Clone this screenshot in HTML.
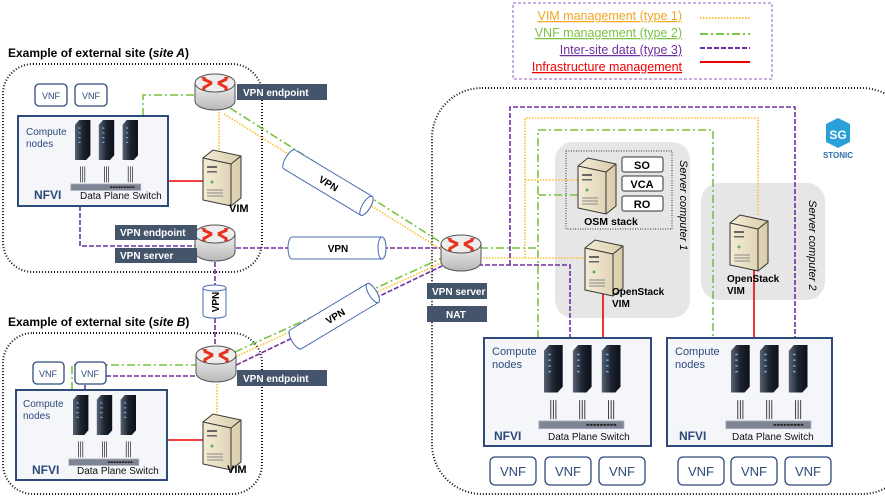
<!DOCTYPE html>
<html><head><meta charset="utf-8"><style>
html,body{margin:0;padding:0;background:#fff;}
svg{display:block;font-family:"Liberation Sans",sans-serif;}
</style></head><body>
<svg width="885" height="497" viewBox="0 0 885 497" xmlns="http://www.w3.org/2000/svg">
<defs>
<linearGradient id="srv" x1="0" x2="1"><stop offset="0" stop-color="#f4ecd6"/><stop offset="1" stop-color="#d9ccaa"/></linearGradient>
<linearGradient id="rk" x1="0" x2="1"><stop offset="0" stop-color="#5a6474"/><stop offset="0.5" stop-color="#1d2430"/><stop offset="1" stop-color="#0c1018"/></linearGradient>
<linearGradient id="cyl" x1="0" x2="0" y1="0" y2="1"><stop offset="0" stop-color="#f0f0f0"/><stop offset="1" stop-color="#b8b8b8"/></linearGradient>
<g id="server">
<path d="M0,8 L10,0 L38,6 L38,48 L28,56 L0,50 Z" fill="url(#srv)" stroke="#333" stroke-width="1"/>
<path d="M28,14 L38,6 M28,14 L28,56 M0,8 L28,14" fill="none" stroke="#333" stroke-width="1"/>
<rect x="4" y="16" width="10" height="2" fill="#666"/><rect x="4" y="21" width="10" height="1.5" fill="#666"/>
<circle cx="9" cy="32" r="1.5" fill="#6a6"/>
<path d="M4,40h16M4,43h16M4,46h16" stroke="#888" stroke-width="1"/>
</g>
<g id="router">
<path d="M0,10 L0,28 A20,9 0 0 0 40,28 L40,10 Z" fill="url(#cyl)" stroke="#555"/>
<ellipse cx="20" cy="10" rx="20" ry="9" fill="#eee" stroke="#555"/>
<path d="M8,6 L17,10 M32,6 L23,10 M8,15 L17,10 M32,15 L23,10" stroke="#e8321e" stroke-width="3"/>
<path d="M6,4l5,0l-2,4zM34,4l-5,0l2,4zM6,17l5,0l-2,-4zM34,17l-5,0l2,-4z" fill="#e8321e"/>
</g>
<g id="rack">
<path d="M0,6 L6,0 L22,0 L22,44 L16,50 L0,50 Z" fill="url(#rk)"/>
<path d="M5,10h3M5,16h3M5,22h3M5,28h3" stroke="#6ab0e0" stroke-width="1.5"/>
<path d="M8,58v20M11,58v20M14,58v20" stroke="#222" stroke-width="1"/>
</g>
<g id="rackset">
<use href="#rack" x="0" y="0"/><use href="#rack" x="34" y="0"/><use href="#rack" x="68" y="0"/>
<rect x="-6" y="80" width="100" height="8" fill="#7d8594" stroke="#aab"/>
<path d="M50,84h36" stroke="#222" stroke-width="2" stroke-dasharray="3,1"/>
</g>
<g id="tube">
<path d="M0,0 L90,0 A4,11 0 0 1 90,22 L0,22 A4,11 0 0 1 0,0Z" fill="#fff" stroke="#4a6bb0"/>
<ellipse cx="90" cy="11" rx="4" ry="11" fill="#fff" stroke="#4a6bb0"/>
</g>
</defs>

<rect x="513" y="3" width="259" height="76" fill="none" stroke="#9060c0" stroke-dasharray="3,2"/>
<g font-size="12.5" text-anchor="end">
<text x="682" y="20" fill="#f5a623" text-decoration="underline">VIM management (type 1)</text>
<text x="682" y="37" fill="#7cc243" text-decoration="underline">VNF management (type 2)</text>
<text x="682" y="54" fill="#7030a0" text-decoration="underline">Inter-site data (type 3)</text>
<text x="682" y="71" fill="#e00" text-decoration="underline">Infrastructure management</text>
</g>
<path d="M700,18h50" stroke="#fbc02d" stroke-width="2" stroke-dasharray="1.5,1.5"/>
<path d="M700,34h50" stroke="#7cc243" stroke-width="2" stroke-dasharray="8,3,2,3"/>
<path d="M700,48h50" stroke="#7030a0" stroke-width="2" stroke-dasharray="5,2"/>
<path d="M700,62h50" stroke="#e00" stroke-width="2"/>

<text x="8" y="57" font-size="12" font-weight="bold">Example of external site (<tspan font-style="italic">site A</tspan>)</text>
<rect x="3" y="64" width="259" height="208" rx="30" fill="none" stroke="#111" stroke-width="2" stroke-dasharray="1,2"/>
<text x="8" y="326" font-size="12" font-weight="bold">Example of external site (<tspan font-style="italic">site B</tspan>)</text>
<rect x="3" y="333" width="259" height="161" rx="30" fill="none" stroke="#111" stroke-width="2" stroke-dasharray="1,2"/>
<rect x="432" y="88" width="480" height="406" rx="50" fill="none" stroke="#111" stroke-width="2" stroke-dasharray="1,2"/>

<rect x="555" y="142" width="135" height="176" rx="18" fill="#e6e6e6"/>
<rect x="701" y="183" width="124" height="117" rx="18" fill="#e6e6e6"/>
<text transform="translate(680,160) rotate(90)" font-size="11" font-style="italic">Server computer 1</text>
<text transform="translate(809,200) rotate(90)" font-size="11" font-style="italic">Server computer 2</text>
<rect x="566" y="151" width="106" height="78" fill="none" stroke="#333" stroke-dasharray="1,1.5"/>
<g font-size="11" font-weight="bold" text-anchor="middle">
<rect x="622" y="157" width="41" height="15" rx="2" fill="#fff" stroke="#333"/><text x="642" y="169">SO</text>
<rect x="622" y="176" width="41" height="15" rx="2" fill="#fff" stroke="#333"/><text x="642" y="188">VCA</text>
<rect x="622" y="196" width="41" height="15" rx="2" fill="#fff" stroke="#333"/><text x="642" y="208">RO</text>
<text x="611" y="225" font-size="10.5">OSM stack</text>
</g>

<path d="M826,124 L838,118 L850,124 L850,142 L838,148 L826,142Z" fill="#2aa0d8"/>
<text x="838" y="139" font-size="12" font-weight="bold" fill="#fff" text-anchor="middle">SG</text>
<text x="838" y="158" font-size="8" font-weight="bold" fill="#2a6fa8" text-anchor="middle">STONIC</text>

<g fill="none" stroke="#7cc243" stroke-width="1.6" stroke-dasharray="8,3,2,3">
<path d="M143,116V95H197"/>
<path d="M230,108L445,245"/>
<path d="M480,248H538"/>
<path d="M538,338V130H713V338"/>
<path d="M538,195H580"/>
<path d="M72,390V365H198"/>
<path d="M235,352L442,258"/>
</g>
<g fill="none" stroke="#fbc02d" stroke-width="1.6" stroke-dasharray="1.5,1.5">
<path d="M219,112V152"/>
<path d="M224,114L442,250"/>
<path d="M480,258H590"/>
<path d="M525,258V118H758V215"/>
<path d="M525,180H580"/>
<path d="M217,384V415"/>
<path d="M233,358L443,262"/>
</g>
<g fill="none" stroke="#7030a0" stroke-width="1.6" stroke-dasharray="5,2">
<path d="M80,206V246H196"/>
<path d="M236,248H440"/>
<path d="M215,262V345"/>
<path d="M478,265H570V338"/>
<path d="M510,265V107H795V338"/>
<path d="M85,390V376H196"/>
<path d="M230,368L442,266"/>
</g>
<g stroke="#e00" stroke-width="1.6">
<path d="M168,181H206"/><path d="M167,440H206"/>
<path d="M603,290V338"/><path d="M754,255V338"/>
</g>

<g font-size="10" font-weight="bold" text-anchor="middle">
<g transform="translate(295,150) rotate(31)"><use href="#tube"/><text x="46" y="15">VPN</text></g>
<g transform="translate(292,237)"><use href="#tube"/><text x="46" y="15">VPN</text></g>
<g transform="translate(290,330) rotate(-31)"><use href="#tube"/><text x="46" y="15">VPN</text></g>
<path d="M203,288V315A11,3 0 0 0 226,315V288" fill="#fff" stroke="#4a6bb0"/>
<ellipse cx="214.5" cy="288" rx="11.5" ry="3" fill="#fff" stroke="#4a6bb0"/>
<text transform="translate(219,302) rotate(-90)" font-size="10">VPN</text>
</g>

<g fill="#fff" stroke="#2e4a7a" stroke-width="1.3">
<rect x="35" y="84" width="32" height="22" rx="4"/><rect x="75" y="84" width="32" height="22" rx="4"/>
<rect x="33" y="362" width="31" height="22" rx="4"/><rect x="75" y="362" width="31" height="22" rx="4"/>
<rect x="490" y="457" width="46" height="28" rx="5"/><rect x="545" y="457" width="46" height="28" rx="5"/><rect x="599" y="457" width="46" height="28" rx="5"/>
<rect x="678" y="457" width="46" height="28" rx="5"/><rect x="731" y="457" width="46" height="28" rx="5"/><rect x="785" y="457" width="46" height="28" rx="5"/>
</g>
<g font-size="9" fill="#2e4a7a" text-anchor="middle">
<text x="51" y="99">VNF</text><text x="91" y="99">VNF</text>
<text x="48" y="377">VNF</text><text x="90" y="377">VNF</text>
</g>
<g font-size="13" fill="#2e4a7a" text-anchor="middle">
<text x="513" y="476">VNF</text><text x="568" y="476">VNF</text><text x="622" y="476">VNF</text>
<text x="701" y="476">VNF</text><text x="754" y="476">VNF</text><text x="808" y="476">VNF</text>
</g>

<g fill="#f4f6fa" stroke="#2e4a7a" stroke-width="2">
<rect x="18" y="116" width="150" height="90"/>
<rect x="16" y="390" width="151" height="90"/>
<rect x="484" y="338" width="167" height="108"/>
<rect x="667" y="338" width="165" height="108"/>
</g>
<g font-size="10" fill="#2e4a7a"><text x="26" y="135">Compute</text><text x="26" y="147">nodes</text>
<text x="23" y="407">Compute</text><text x="23" y="419">nodes</text></g>
<g font-size="11" fill="#2e4a7a"><text x="492" y="355">Compute</text><text x="492" y="368">nodes</text>
<text x="675" y="355">Compute</text><text x="675" y="368">nodes</text></g>
<g font-weight="bold" fill="#2e4a7a"><text x="34" y="199" font-size="12">NFVI</text><text x="32" y="474" font-size="12">NFVI</text>
<text x="494" y="440" font-size="12">NFVI</text><text x="679" y="440" font-size="12">NFVI</text></g>
<g font-size="10" fill="#111"><text x="80" y="199">Data Plane Switch</text><text x="77" y="474">Data Plane Switch</text>
<text x="548" y="440">Data Plane Switch</text><text x="732" y="440">Data Plane Switch</text></g>
<use href="#rackset" transform="translate(75,120) scale(0.7,0.8)"/>
<use href="#rackset" transform="translate(73,395) scale(0.7,0.8)"/>
<use href="#rackset" transform="translate(544,345) scale(0.85,0.95)"/>
<use href="#rackset" transform="translate(731,345) scale(0.85,0.95)"/>

<use href="#server" x="203" y="150"/>
<use href="#server" x="203" y="414"/>
<use href="#server" x="578" y="158"/>
<use href="#server" x="585" y="240"/>
<use href="#server" x="730" y="215"/>
<g font-weight="bold" font-size="11">
<text x="229" y="212">VIM</text><text x="227" y="473">VIM</text>
<text x="612" y="295" font-size="10">OpenStack</text><text x="612" y="307" font-size="10">VIM</text>
<text x="727" y="282" font-size="10">OpenStack</text><text x="727" y="294" font-size="10">VIM</text>
</g>

<use href="#router" x="195" y="73"/>
<use href="#router" x="195" y="224"/>
<use href="#router" x="196" y="345"/>
<use href="#router" x="441" y="234"/>

<g fill="#44546a"><rect x="237" y="84" width="90" height="16"/><rect x="115" y="225" width="82" height="15"/><rect x="115" y="248" width="82" height="15"/>
<rect x="237" y="370" width="90" height="16"/><rect x="427" y="283" width="60" height="16"/><rect x="427" y="306" width="60" height="16"/></g>
<g fill="#fff" font-size="10" font-weight="bold">
<text x="243" y="96">VPN endpoint</text><text x="120" y="236">VPN endpoint</text><text x="120" y="259">VPN server</text>
<text x="243" y="382">VPN endpoint</text><text x="432" y="295">VPN server</text><text x="446" y="318">NAT</text>
</g>
</svg>
</body></html>
